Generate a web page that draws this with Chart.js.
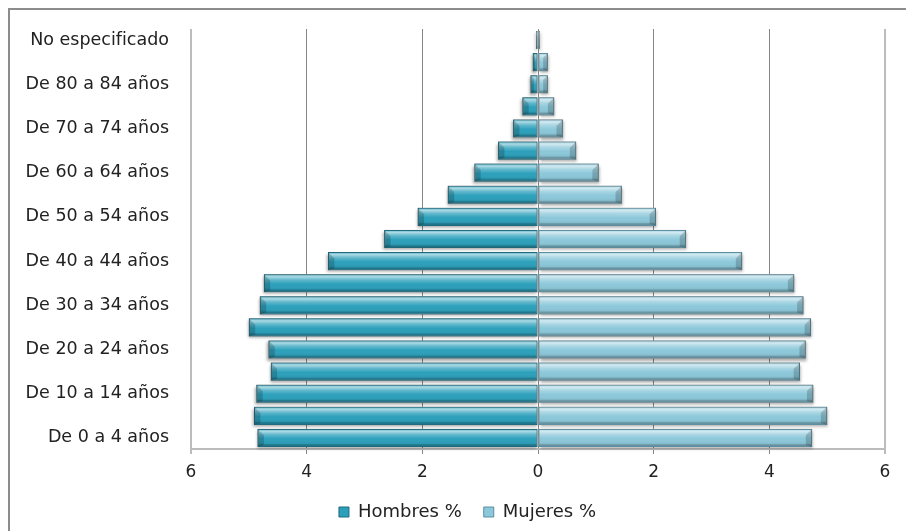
<!DOCTYPE html>
<html lang="es">
<head>
<meta charset="UTF-8">
<title>Pirámide de población</title>
<script src="https://cdn.jsdelivr.net/npm/chart.js"></script>
<style>
  body { margin: 0; background: #fff; }
  #marco {
    position: absolute; left: 8px; top: 8px;
    width: 898px; height: 523px;
    border-left: 2px solid #8c8c8c; border-top: 2px solid #8c8c8c;
  }
</style>
</head>
<body>
<div id="marco">
  <canvas id="piramide" width="896" height="521"></canvas>
</div>
<script>
// grupos de edad, de abajo hacia arriba
const grupos = [
  "De 0 a 4 años", "De 5 a 9 años", "De 10 a 14 años", "De 15 a 19 años",
  "De 20 a 24 años", "De 25 a 29 años", "De 30 a 34 años", "De 35 a 39 años",
  "De 40 a 44 años", "De 45 a 49 años", "De 50 a 54 años", "De 55 a 59 años",
  "De 60 a 64 años", "De 65 a 69 años", "De 70 a 74 años", "De 75 a 79 años",
  "De 80 a 84 años", "De 85 años y más", "No especificado"
];
// porcentajes
const hombres = [4.85, 4.91, 4.87, 4.62, 4.66, 5.00, 4.81, 4.74, 3.63, 2.66,
                 2.08, 1.56, 1.10, 0.69, 0.43, 0.27, 0.13, 0.09, 0.03];
const mujeres = [4.74, 5.00, 4.76, 4.53, 4.63, 4.72, 4.59, 4.43, 3.53, 2.56,
                 2.04, 1.45, 1.05, 0.66, 0.43, 0.28, 0.17, 0.17, 0.03];
const ticksX = [-6, -4, -2, 0, 2, 4, 6];

const fuente = "'DejaVu Sans', sans-serif";

// brillo y sombra de las barras (efecto biselado)
const bisel = {
  id: 'bisel',
  afterLayout(chart) {
    // la leyenda va centrada un poco más a la derecha
    chart.legend.left += 20;
    chart.legend.right += 20;
  },
  beforeDatasetsDraw(chart) {
    const ctx = chart.ctx;
    ctx.save();
    chart.data.datasets.forEach((ds, i) => {
      chart.getDatasetMeta(i).data.forEach(el => {
        const izq = Math.min(el.x, el.base), der = Math.max(el.x, el.base);
        const arriba = el.y - el.height / 2;
        ctx.shadowColor = 'rgba(0,0,0,0.35)';
        ctx.shadowBlur = 3;
        ctx.shadowOffsetY = 2;
        ctx.shadowOffsetX = i === 0 ? -1 : 1;
        ctx.fillStyle = '#999';
        ctx.fillRect(izq, arriba, der - izq, el.height);
      });
    });
    ctx.restore();
  },
  afterDatasetsDraw(chart) {
    const ctx = chart.ctx;
    ctx.save();
    chart.data.datasets.forEach((ds, i) => {
      chart.getDatasetMeta(i).data.forEach(el => {
        const izq = Math.min(el.x, el.base), der = Math.max(el.x, el.base);
        const h = el.height, arriba = el.y - h / 2;
        const ancho = der - izq;
        if (ancho < 1) return;
        const g = ctx.createLinearGradient(0, arriba, 0, arriba + h);
        g.addColorStop(0, 'rgba(255,255,255,0.2)');
        g.addColorStop(0.14, 'rgba(255,255,255,0.6)');
        g.addColorStop(0.32, 'rgba(255,255,255,0.25)');
        g.addColorStop(0.55, 'rgba(255,255,255,0)');
        g.addColorStop(0.85, 'rgba(0,0,0,0.08)');
        g.addColorStop(1, 'rgba(0,0,0,0.3)');
        ctx.fillStyle = g;
        ctx.fillRect(izq + 1, arriba + 1, ancho - 2, h - 2);
        // extremo biselado
        const b = Math.min(h * 0.35, ancho / 2);
        const fin = i === 0 ? izq : der;
        const dir = i === 0 ? 1 : -1;
        ctx.fillStyle = 'rgba(0,0,0,0.18)';
        ctx.beginPath();
        ctx.moveTo(fin, arriba);
        ctx.lineTo(fin + dir * b, arriba + b);
        ctx.lineTo(fin + dir * b, arriba + h - b * 0.3);
        ctx.lineTo(fin, arriba + h);
        ctx.closePath();
        ctx.fill();
        ctx.fillStyle = 'rgba(0,0,0,0.12)';
        ctx.fillRect(izq + 1, arriba + h - 3, ancho - 2, 2);
      });
    });
    ctx.restore();
  }
};

new Chart(document.getElementById('piramide'), {
  type: 'bar',
  data: {
    labels: grupos,
    datasets: [{
      label: 'Hombres %',
      data: hombres.map(v => -v),
      backgroundColor: '#2ca0bb',
      borderColor: '#1f6a7c',
      borderWidth: 1,
      borderSkipped: false
    }, {
      label: 'Mujeres %',
      data: mujeres,
      backgroundColor: '#8cc8da',
      borderColor: '#5e8ea0',
      borderWidth: 1,
      borderSkipped: false
    }]
  },
  options: {
    indexAxis: 'y',
    responsive: false,
    animation: false,
    layout: { padding: { top: 19, right: 21, left: 0, bottom: 0 } },
    datasets: { bar: { categoryPercentage: 1, barPercentage: 0.82 } },
    scales: {
      x: {
        stacked: true,
        min: -6, max: 6,
        afterBuildTicks: s => { s.ticks = ticksX.map(v => ({ value: v })); },
        afterFit: s => { s.height = 32; s.paddingLeft = 0; s.paddingRight = 0; },
        ticks: {
          callback: v => Math.abs(v),
          color: '#222',
          font: { family: fuente, size: 17 },
          padding: 8
        },
        grid: {
          color: c => (Math.abs(c.tick.value) === 6 ? '#bcbcbc' : '#878787'),
          lineWidth: c => (Math.abs(c.tick.value) === 6 ? 2 : 1),
          tickLength: 5
        },
        border: { color: '#bcbcbc', width: 2 }
      },
      y: {
        stacked: true,
        reverse: true,
        afterFit: s => { s.width = 181; s.paddingTop = 0; s.paddingBottom = 0; },
        ticks: {
          autoSkip: false,
          callback: function (v, i) { return i % 2 === 0 ? this.getLabelForValue(v) : ''; },
          color: '#222',
          font: { family: fuente, size: 17.5 },
          padding: 22
        },
        grid: { display: false, drawTicks: false },
        border: { display: false }
      }
    },
    plugins: {
      legend: {
        position: 'bottom',
        labels: {
          boxWidth: 10, boxHeight: 10,
          color: '#222',
          font: { family: fuente, size: 18 },
          padding: 22
        }
      },
      tooltip: { enabled: false }
    }
  },
  plugins: [bisel]
});
</script>
</body>
</html>
